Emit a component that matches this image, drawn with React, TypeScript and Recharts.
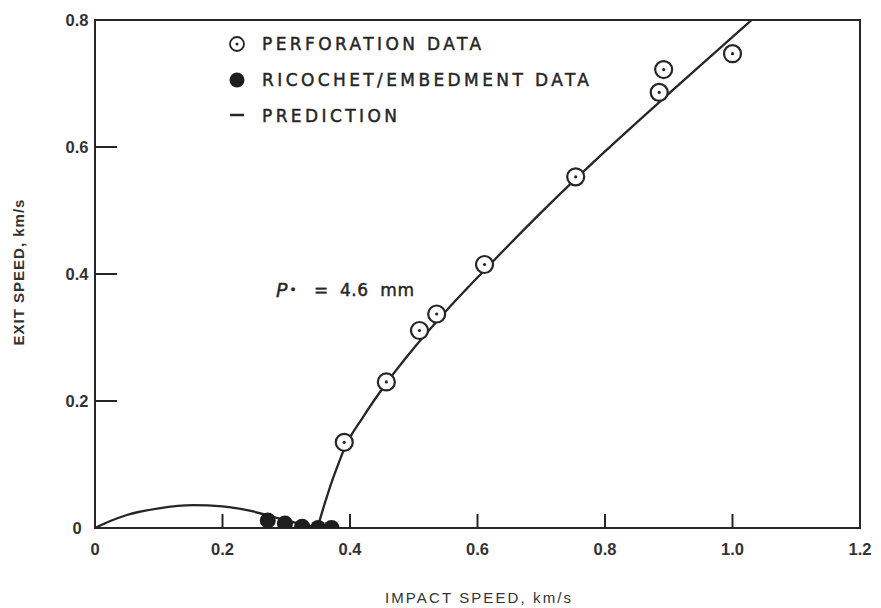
import { ComposedChart, Scatter, Line, XAxis, YAxis, ReferenceArea } from "recharts"

// ticks
const X_TICKS = [0, 0.2, 0.4, 0.6, 0.8, 1.0, 1.2]
const Y_TICKS = [0, 0.2, 0.4, 0.6, 0.8]

// perforation data (open circles)
const PERF_IMPACT = [0.391, 0.457, 0.509, 0.536, 0.611, 0.754, 0.885, 0.892, 1.0]
const PERF_EXIT = [0.135, 0.23, 0.311, 0.337, 0.415, 0.553, 0.686, 0.722, 0.747]

// ricochet / embedment data (filled dots)
const RICO_IMPACT = [0.271, 0.298, 0.325, 0.35, 0.371]
const RICO_EXIT = [0.012, 0.007, 0.002, 0, 0]

// prediction, below the ballistic limit (ricochet hump)
const PRED_LOW_IMPACT = [0, 0.024, 0.05, 0.1, 0.154, 0.2, 0.248, 0.285, 0.32, 0.349]
const PRED_LOW_EXIT = [0, 0.011, 0.0205, 0.031, 0.036, 0.034, 0.026, 0.016, 0.007, 0]

// prediction, above the ballistic limit
const PRED_HIGH_IMPACT = [
  0.349, 0.353, 0.358, 0.364, 0.374, 0.384, 0.392, 0.42, 0.457, 0.5,
  0.55, 0.611, 0.7, 0.8, 0.9, 1.03,
]
const PRED_HIGH_EXIT = [
  0, 0.014, 0.031, 0.05, 0.08, 0.107, 0.127, 0.174, 0.228, 0.283,
  0.341, 0.406, 0.497, 0.593, 0.684, 0.8,
]

const INK = "#262626"
const FONT = "'Liberation Sans', Arial, sans-serif"
const LEGEND_FONT = "'DejaVu Sans', sans-serif"

const toPoints = (xs: number[], ys: number[]) => xs.map((x, i) => ({ x, y: ys[i] }))

const perfData = toPoints(PERF_IMPACT, PERF_EXIT)
const ricoData = toPoints(RICO_IMPACT, RICO_EXIT)
const predLow = toPoints(PRED_LOW_IMPACT, PRED_LOW_EXIT)
const predHigh = toPoints(PRED_HIGH_IMPACT, PRED_HIGH_EXIT)

const OpenDot = (p: any) => (
  <g>
    <circle cx={p.cx} cy={p.cy} r={8.5} fill="#fff" stroke={INK} strokeWidth={2.2} />
    <circle cx={p.cx} cy={p.cy} r={1.6} fill={INK} />
  </g>
)

const FilledDot = (p: any) => <circle cx={p.cx} cy={p.cy} r={8} fill="#1e1e1e" />

const fmt = (v: number) => (v === 0 ? "0" : v.toFixed(1))

const XTick = (p: any) => (
  <text x={p.x} y={555} textAnchor="middle" fontFamily={FONT} fontWeight={700} fontSize={16.5} fill="#333">
    {fmt(p.payload.value)}
  </text>
)

const YTick = (p: any) => (
  <text x={77} y={p.y + 6} textAnchor="middle" fontFamily={FONT} fontWeight={700} fontSize={16.5} fill="#333">
    {fmt(p.payload.value)}
  </text>
)

const legendText: React.CSSProperties = {
  position: "absolute",
  left: 262,
  fontFamily: LEGEND_FONT,
  fontSize: 17,
  letterSpacing: 3.4,
  color: "#262626",
  WebkitTextStroke: "0.45px #262626",
  lineHeight: "18px",
  whiteSpace: "nowrap",
}

const noteText: React.CSSProperties = {
  position: "absolute",
  top: 280,
  fontFamily: LEGEND_FONT,
  fontSize: 17,
  color: "#262626",
  WebkitTextStroke: "0.45px #262626",
  whiteSpace: "pre",
  lineHeight: "20px",
}

export default function App() {
  return (
    <div style={{ position: "relative", width: 881, height: 608, background: "#fff" }}>
      <style>{"body{margin:0}"}</style>
      <ComposedChart width={881} height={608} margin={{ top: 20, right: 21, left: 35, bottom: 50 }}>
        <XAxis
          type="number"
          dataKey="x"
          domain={[0, 1.2]}
          ticks={X_TICKS}
          height={30}
          axisLine={{ stroke: INK, strokeWidth: 2 }}
          tickLine={{ stroke: INK, strokeWidth: 2 }}
          tickSize={-14}
          tick={XTick}
          allowDataOverflow
        />
        <YAxis
          type="number"
          dataKey="y"
          domain={[0, 0.8]}
          ticks={Y_TICKS}
          width={60}
          axisLine={{ stroke: INK, strokeWidth: 2 }}
          tickLine={{ stroke: INK, strokeWidth: 2 }}
          tickSize={-22}
          tick={YTick}
          allowDataOverflow
        />
        <ReferenceArea x1={0} x2={1.2} y1={0} y2={0.8} fill="none" stroke={INK} strokeWidth={2} />
        <Line
          data={predLow}
          dataKey="y"
          type="monotone"
          stroke={INK}
          strokeWidth={2.3}
          dot={false}
          activeDot={false}
          isAnimationActive={false}
        />
        <Line
          data={predHigh}
          dataKey="y"
          type="monotone"
          stroke={INK}
          strokeWidth={2.3}
          dot={false}
          activeDot={false}
          isAnimationActive={false}
        />
        <Scatter data={ricoData} dataKey="y" shape={FilledDot} isAnimationActive={false} />
        <Scatter data={perfData} dataKey="y" shape={OpenDot} isAnimationActive={false} />
      </ComposedChart>

      {/* legend */}
      <svg style={{ position: "absolute", left: 226, top: 34 }} width={24} height={92}>
        <circle cx={11} cy={10} r={7} fill="none" stroke={INK} strokeWidth={1.8} />
        <circle cx={11} cy={10} r={1.5} fill={INK} />
        <circle cx={11} cy={46} r={7.5} fill="#1e1e1e" />
        <line x1={4} x2={18} y1={81} y2={81} stroke={INK} strokeWidth={2.5} />
      </svg>
      <div style={{ ...legendText, top: 35 }}>PERFORATION DATA</div>
      <div style={{ ...legendText, top: 71 }}>RICOCHET/EMBEDMENT DATA</div>
      <div style={{ ...legendText, top: 107 }}>PREDICTION</div>

      {/* annotation */}
      <div style={{ ...noteText, left: 276 }}>
        <i style={{ fontSize: 19 }}>P</i>
        <span style={{ fontSize: 12, position: "relative", top: -3, marginLeft: 2 }}>{"\u2022"}</span>
      </div>
      <div style={{ ...noteText, left: 314 }}>=</div>
      <div style={{ ...noteText, left: 340, letterSpacing: 0.5 }}>{"4.6  mm"}</div>

      {/* axis titles */}
      <div
        style={{
          position: "absolute",
          left: 385,
          top: 589,
          fontFamily: FONT,
          fontSize: 15,
          letterSpacing: 2.1,
          color: "#333",
        }}
      >
        IMPACT SPEED, km/s
      </div>
      <div
        style={{
          position: "absolute",
          left: 18,
          top: 272,
          transform: "translate(-50%, -50%) rotate(-90deg)",
          fontFamily: FONT,
          fontWeight: 700,
          fontSize: 15,
          letterSpacing: 1,
          color: "#333",
          whiteSpace: "nowrap",
        }}
      >
        EXIT SPEED, km/s
      </div>
    </div>
  )
}
